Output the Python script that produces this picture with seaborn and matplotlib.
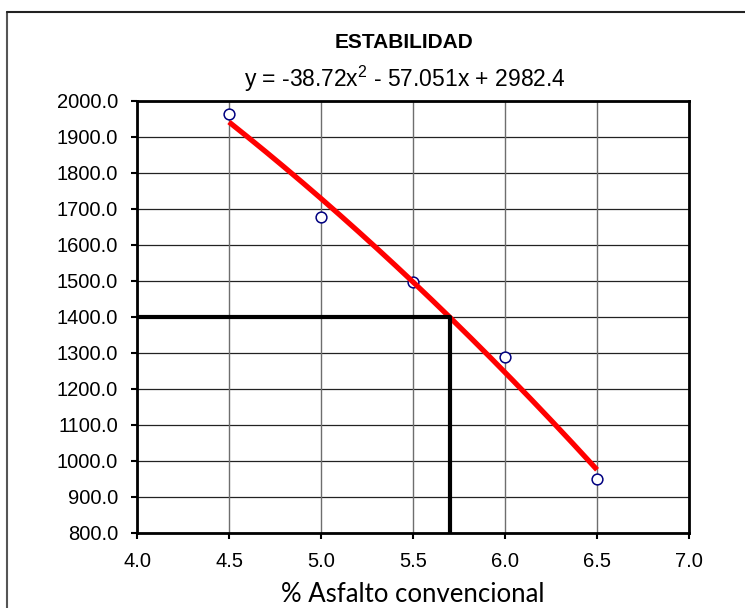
import numpy as np
import pandas as pd
import matplotlib
matplotlib.use("Agg")
import matplotlib.pyplot as plt
from matplotlib.lines import Line2D
import seaborn as sns

# Marshall stability test results
asfalto = [4.5, 5.0, 5.5, 6.0, 6.5]
estabilidad = [1965, 1678, 1498, 1289, 950]

# Quadratic trend: y = a x^2 + b x + c
coef_a, coef_b, coef_c = -38.72, -57.051, 2982.4

# Design reading at the target stability
estabilidad_objetivo = 1400.0
asfalto_optimo = 5.7

x_ticks = [4.0, 4.5, 5.0, 5.5, 6.0, 6.5, 7.0]
y_ticks = list(range(800, 2001, 100))

sns.set_theme(style="white")
plt.rcParams["font.family"] = ["Liberation Sans", "DejaVu Sans"]
plt.rcParams["mathtext.fontset"] = "custom"
plt.rcParams["mathtext.rm"] = "Liberation Sans"
plt.rcParams["mathtext.it"] = "Liberation Sans"
plt.rcParams["mathtext.default"] = "rm"

fig = plt.figure(figsize=(7.45, 6.08), dpi=100)
ax = fig.add_axes([137 / 745, 1 - 533 / 608, (689 - 137) / 745, (533 - 101) / 608])

# grid
for yv in y_ticks:
    ax.axhline(yv, color="#222222", lw=0.9, zorder=1)
for xv in x_ticks:
    ax.axvline(xv, color="#6e6e6e", lw=1.0, zorder=1)

# trend curve from the fitted coefficients
xs = np.linspace(min(asfalto), max(asfalto), 200)
curve = pd.DataFrame({"x": xs, "y": coef_a * xs**2 + coef_b * xs + coef_c})

pts = pd.DataFrame({"x": asfalto, "y": estabilidad})
sns.scatterplot(data=pts, x="x", y="y", ax=ax, marker="o", s=60,
                facecolor="white", edgecolor="#000080", linewidth=1.1, zorder=3)
sns.lineplot(data=curve, x="x", y="y", ax=ax, color="#ff0000", lw=3.8,
             zorder=4, solid_capstyle="butt")

# design lines
ax.plot([x_ticks[0], asfalto_optimo, asfalto_optimo],
        [estabilidad_objetivo, estabilidad_objetivo, y_ticks[0]],
        color="black", lw=3.0, solid_joinstyle="round", zorder=5)

ax.set_xlim(x_ticks[0], x_ticks[-1])
ax.set_ylim(y_ticks[0], y_ticks[-1])
ax.set_xticks(x_ticks)
ax.set_yticks(y_ticks)
ax.set_xticklabels([f"{v:.1f}" for v in x_ticks])
ax.set_yticklabels([f"{v:.1f}" for v in y_ticks])
ax.tick_params(axis="both", direction="out", length=4.5, width=1.5,
               labelsize=14.5, colors="black", pad=9,
               bottom=True, left=True)
for sp in ax.spines.values():
    sp.set_color("black")
    sp.set_linewidth(2.0)
    sp.set_zorder(6)

ax.set_xlabel("% Asfalto convencional", fontsize=18.5, family=["Lato", "DejaVu Sans"],
              labelpad=8, color="black")
ax.set_ylabel("")

fig.text(404 / 745, 1 - 42 / 608, "ESTABILIDAD", ha="center", va="center",
         fontsize=15, fontweight="bold", color="black")
fig.text(405 / 745, 1 - 79 / 608,
         f"y = {coef_a:g}x$^{{2}}$ - {abs(coef_b):g}x + {coef_c:g}",
         ha="center", va="center", fontsize=16.5, color="black")

# chart area border
fig.add_artist(Line2D([7 / 745, 7 / 745], [0, 1 - 12 / 608],
                      transform=fig.transFigure, color="#555555", lw=1.5))
fig.add_artist(Line2D([7 / 745, 1], [1 - 12 / 608, 1 - 12 / 608],
                      transform=fig.transFigure, color="#222222", lw=1.5))

fig.savefig("out.png", dpi=100)
